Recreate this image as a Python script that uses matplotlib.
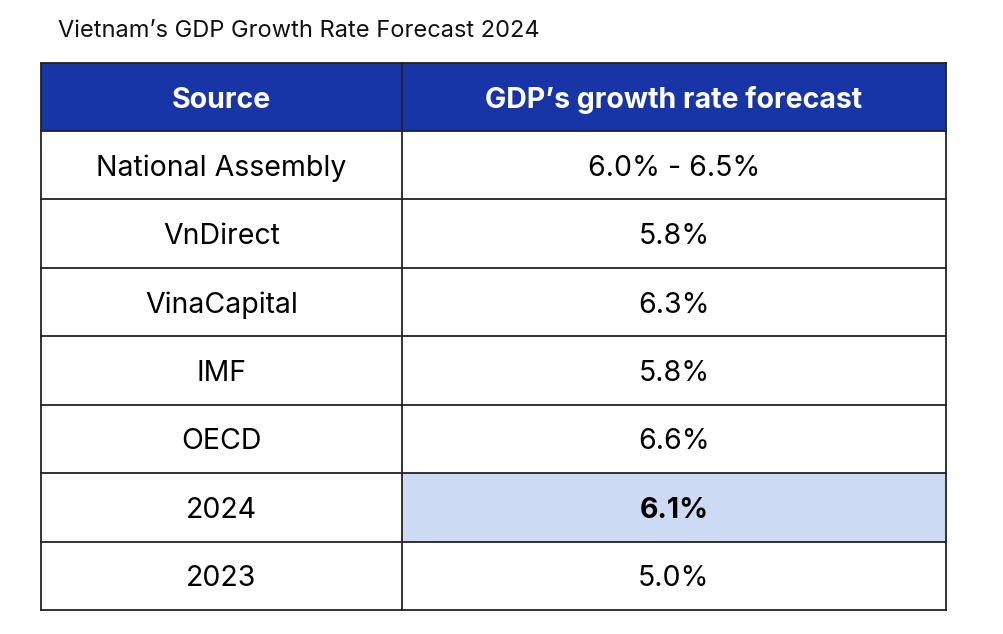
import matplotlib.pyplot as plt
from matplotlib.patches import Rectangle

plt.rcParams['font.family'] = ['Inter', 'DejaVu Sans']

title = "Vietnam\u2019s GDP Growth Rate Forecast 2024"
headers = ["Source", "GDP\u2019s growth rate forecast"]
sources = ["National Assembly", "VnDirect", "VinaCapital", "IMF", "OECD", "2024", "2023"]
forecasts = ["6.0% - 6.5%", "5.8%", "6.3%", "5.8%", "6.6%", "6.1%", "5.0%"]
highlight = "2024"

W, H = 1004, 634
fig = plt.figure(figsize=(W / 100, H / 100), dpi=100)
ax = fig.add_axes([0, 0, 1, 1])
ax.set_xlim(0, W)
ax.set_ylim(H, 0)
ax.axis('off')

# table layout in pixels
x0, xm, x1 = 41, 402, 946
y_top, head_h = 63, 68
row_h = (610 - 131) / len(sources)
blue = '#1835a8'
light = '#ccdaf3'
dy = 3  # nudge text down to visual centre

ax.text(58, 31, title, fontsize=17, va='center', ha='left', color='#111111')

ax.add_patch(Rectangle((x0, y_top), x1 - x0, head_h, facecolor=blue, edgecolor='none'))
ax.text((x0 + xm) / 2, y_top + head_h / 2 + dy, headers[0], color='white', fontsize=20.5,
        fontweight='bold', ha='center', va='center')
ax.text((xm + x1) / 2, y_top + head_h / 2 + dy, headers[1], color='white', fontsize=20.5,
        fontweight='bold', ha='center', va='center')

y = y_top + head_h
for src, val in zip(sources, forecasts):
    bold = src == highlight
    if bold:
        ax.add_patch(Rectangle((xm, y), x1 - xm, row_h, facecolor=light, edgecolor='none'))
    ax.text((x0 + xm) / 2, y + row_h / 2 + dy, src, fontsize=20.5, ha='center', va='center', color='black')
    ax.text((xm + x1) / 2, y + row_h / 2 + dy, val, fontsize=20.5, ha='center', va='center', color='black',
            fontweight='bold' if bold else 'normal')
    y += row_h

# grid lines
y_bot = y_top + head_h + row_h * len(sources)
for i in range(len(sources) + 2):
    yy = y_top + (head_h + row_h * (i - 1) if i > 0 else 0)
    ax.plot([x0, x1], [yy, yy], color='#222222', lw=1.3, solid_capstyle='projecting')
for xx in (x0, xm, x1):
    ax.plot([xx, xx], [y_top, y_bot], color='#222222', lw=1.3, solid_capstyle='projecting')

fig.savefig('out.png', dpi=100, facecolor='white')
